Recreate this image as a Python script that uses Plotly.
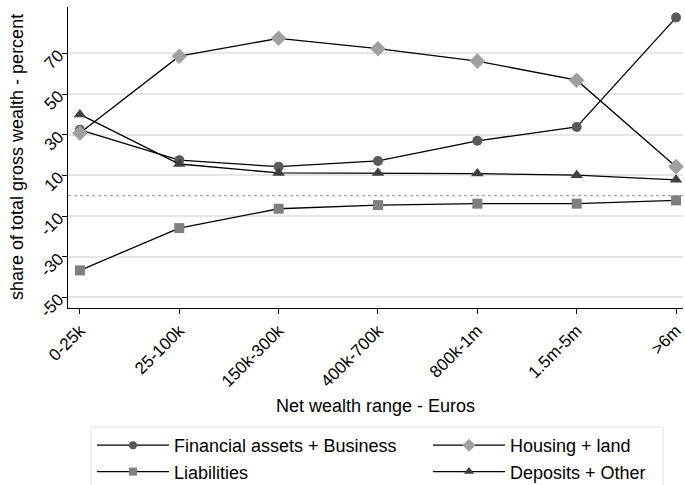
import plotly.graph_objects as go

categories = ["0-25k", "25-100k", "150k-300k", "400k-700k", "800k-1m", "1.5m-5m", ">6m"]
financial = [32.4, 17.5, 14.3, 17.1, 27.0, 33.8, 87.6]
housing = [30.8, 68.6, 77.4, 72.3, 66.2, 56.8, 14.3]
liabilities = [-36.7, -15.9, -6.4, -4.6, -3.9, -3.9, -2.3]
deposits = [40.0, 15.6, 11.2, 11.2, 10.9, 10.1, 7.8]
y_ticks = [70, 50, 30, 10, -10, -30, -50]

xpos = list(range(len(categories)))

W, H = 685, 485
L, R, T, B = 68, 2, 7, 177
PW, PH = W - L - R, H - T - B

def px_x(px):
    return (px - L) / PW

def px_y(py):
    return (H - B - py) / PH

series = [
    ("Financial assets + Business", financial, "circle", "#5a5a5a", 10, 8, "legend"),
    ("Housing + land", housing, "diamond", "#a0a0a0", 12, 10, "legend2"),
    ("Liabilities", liabilities, "square", "#7f7f7f", 10, 8, "legend"),
    ("Deposits + Other", deposits, "triangle-up", "#404040", 11, 9, "legend2"),
]

fig = go.Figure()
for name, vals, sym, col, sz, lsz, lg in series:
    fig.add_trace(go.Scatter(
        x=xpos, y=vals, name=name, mode="lines+markers",
        line=dict(color="black", width=1.3),
        marker=dict(symbol=sym, color=col, size=sz, line=dict(width=0)),
        cliponaxis=False, showlegend=False,
    ))
    # legend-only entry with smaller symbol
    fig.add_trace(go.Scatter(
        x=[None], y=[None], name=name, mode="lines+markers",
        line=dict(color="black", width=1.3),
        marker=dict(symbol=sym, color=col, size=lsz, line=dict(width=0)),
        legend=lg, hoverinfo="skip",
    ))

fig.add_shape(type="line", xref="paper", x0=0, x1=1, yref="y", y0=0, y1=0,
              line=dict(color="#909090", width=1, dash="dot"), layer="below")

# legend frame
fig.add_shape(type="rect", xref="paper", yref="paper",
              x0=px_x(91), x1=px_x(663), y0=px_y(492), y1=px_y(427),
              line=dict(color="#e2e2e2", width=1), fillcolor="rgba(0,0,0,0)")

leg_common = dict(
    orientation="v", xanchor="left", yanchor="top",
    bgcolor="rgba(0,0,0,0)", borderwidth=0,
    font=dict(size=18), itemwidth=72, tracegroupgap=0,
)

fig.update_layout(
    width=W, height=H,
    margin=dict(l=L, r=R, t=T, b=B, autoexpand=False),
    paper_bgcolor="white", plot_bgcolor="white",
    font=dict(family="Liberation Sans, Arial, sans-serif", size=16, color="black"),
    showlegend=True,
    legend=dict(x=px_x(92), y=px_y(427), **leg_common),
    legend2=dict(x=px_x(428), y=px_y(427), **leg_common),
    xaxis=dict(
        range=[-0.12, 6.07], tickmode="array", tickvals=xpos, ticktext=categories,
        tickangle=-45, showgrid=False, zeroline=False, automargin=False,
        showline=True, linecolor="black", linewidth=1,
        ticks="outside", ticklen=5, tickcolor="black",
        tickfont=dict(size=17),
    ),
    yaxis=dict(
        range=[-55.2, 92.8], tickmode="array", tickvals=y_ticks,
        ticktext=[str(v) for v in y_ticks], automargin=False,
        tickangle=-45, showgrid=True, gridcolor="#e6e6e6", gridwidth=1.5,
        zeroline=False, showline=True, linecolor="black", linewidth=1,
        ticks="outside", ticklen=5, tickcolor="black",
        tickfont=dict(size=17),
    ),
    annotations=[
        dict(text="Net wealth range - Euros", xref="paper", yref="paper",
             x=px_x(375), y=px_y(406), xanchor="center", yanchor="middle",
             showarrow=False, font=dict(size=18)),
        dict(text="share of total gross wealth - percent", xref="paper", yref="paper",
             x=px_x(17), y=px_y(157), xanchor="center", yanchor="middle",
             textangle=-90, showarrow=False, font=dict(size=18)),
    ],
)

fig.write_html("out.html", post_script="document.body.style.margin='0px';",
               config={"displayModeBar": False})
